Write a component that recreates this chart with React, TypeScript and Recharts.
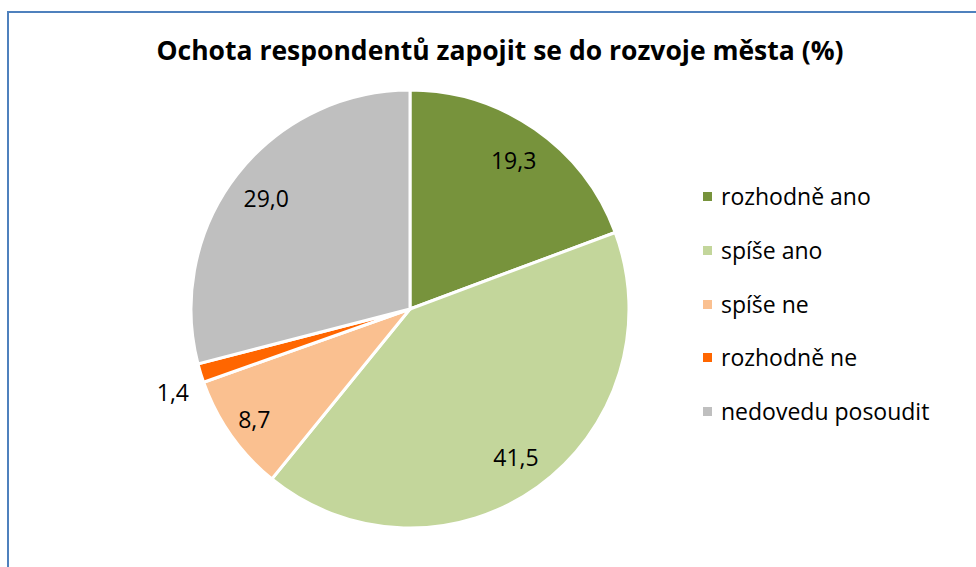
import { Legend, Pie, PieChart, Cell } from 'recharts';

const CATEGORIES = ['rozhodně ano', 'spíše ano', 'spíše ne', 'rozhodně ne', 'nedovedu posoudit'];
const VALUES = [19.3, 41.5, 8.7, 1.4, 29.0];
const COLORS = ['#77933c', '#c3d69b', '#fac090', '#ff6600', '#bfbfbf'];
const TITLE = 'Ochota respondentů zapojit se do rozvoje města (%)';

const FONT = '"Open Sans", sans-serif';
const RAD = Math.PI / 180;

const data = CATEGORIES.map((name, i) => ({ name, value: VALUES[i] }));

function renderLabel(props: any) {
  const { cx, cy, midAngle, outerRadius, value } = props;
  let r = outerRadius * 0.83;
  let dy = 0;
  if (value < 2) {
    // small slice: label sits outside, a bit below the slice like Excel's best fit
    r = outerRadius + 29;
    dy = 10;
  } else if (value < 10) r = outerRadius * 0.87;
  const x = cx + r * Math.cos(-midAngle * RAD);
  const y = cy + r * Math.sin(-midAngle * RAD) + dy;
  return (
    <text
      x={x}
      y={y}
      textAnchor="middle"
      dominantBaseline="central"
      fontSize={23}
      fontFamily={FONT}
      fill="#000"
    >
      {value.toFixed(1).replace('.', ',')}
    </text>
  );
}

function LegendBox() {
  return (
    <div style={{ fontFamily: FONT, fontSize: 23, color: '#000', lineHeight: 1 }}>
      {CATEGORIES.map((c, i) => (
        <div key={c} style={{ display: 'flex', alignItems: 'center', height: 53.7 }}>
          <span
            style={{ width: 9, height: 9, background: COLORS[i], marginRight: 9, display: 'inline-block' }}
          />
          <span>{c}</span>
        </div>
      ))}
    </div>
  );
}

export default function App() {
  return (
    <div
      style={{
        position: 'fixed',
        left: 0,
        top: 0,
        width: 976,
        height: 567,
        overflow: 'hidden',
        background: '#fff',
      }}
    >
      <div
        style={{
          position: 'absolute',
          left: 7,
          top: 11,
          width: 1000,
          height: 600,
          border: '2px solid #4f81bd',
        }}
      />
      <div
        style={{
          position: 'absolute',
          left: 0,
          top: 35,
          width: 1000,
          textAlign: 'center',
          fontFamily: FONT,
          fontWeight: 700,
          fontSize: 26.5,
          lineHeight: 1.2,
        }}
      >
        {TITLE}
      </div>
      <div style={{ position: 'absolute', left: 0, top: 0 }}>
        <PieChart width={976} height={567} margin={{ top: 0, right: 0, bottom: 0, left: 0 }}>
          <Pie
            data={data}
            dataKey="value"
            nameKey="name"
            cx={410}
            cy={309}
            outerRadius={219}
            startAngle={90}
            endAngle={-270}
            stroke="#fff"
            strokeWidth={3}
            label={renderLabel}
            labelLine={false}
            isAnimationActive={false}
          >
            {data.map((_, i) => (
              <Cell key={i} fill={COLORS[i]} />
            ))}
          </Pie>
          <Legend
            layout="vertical"
            align="right"
            verticalAlign="top"
            wrapperStyle={{ left: 703, top: 170, width: 270 }}
            content={() => <LegendBox />}
          />
        </PieChart>
      </div>
    </div>
  );
}
